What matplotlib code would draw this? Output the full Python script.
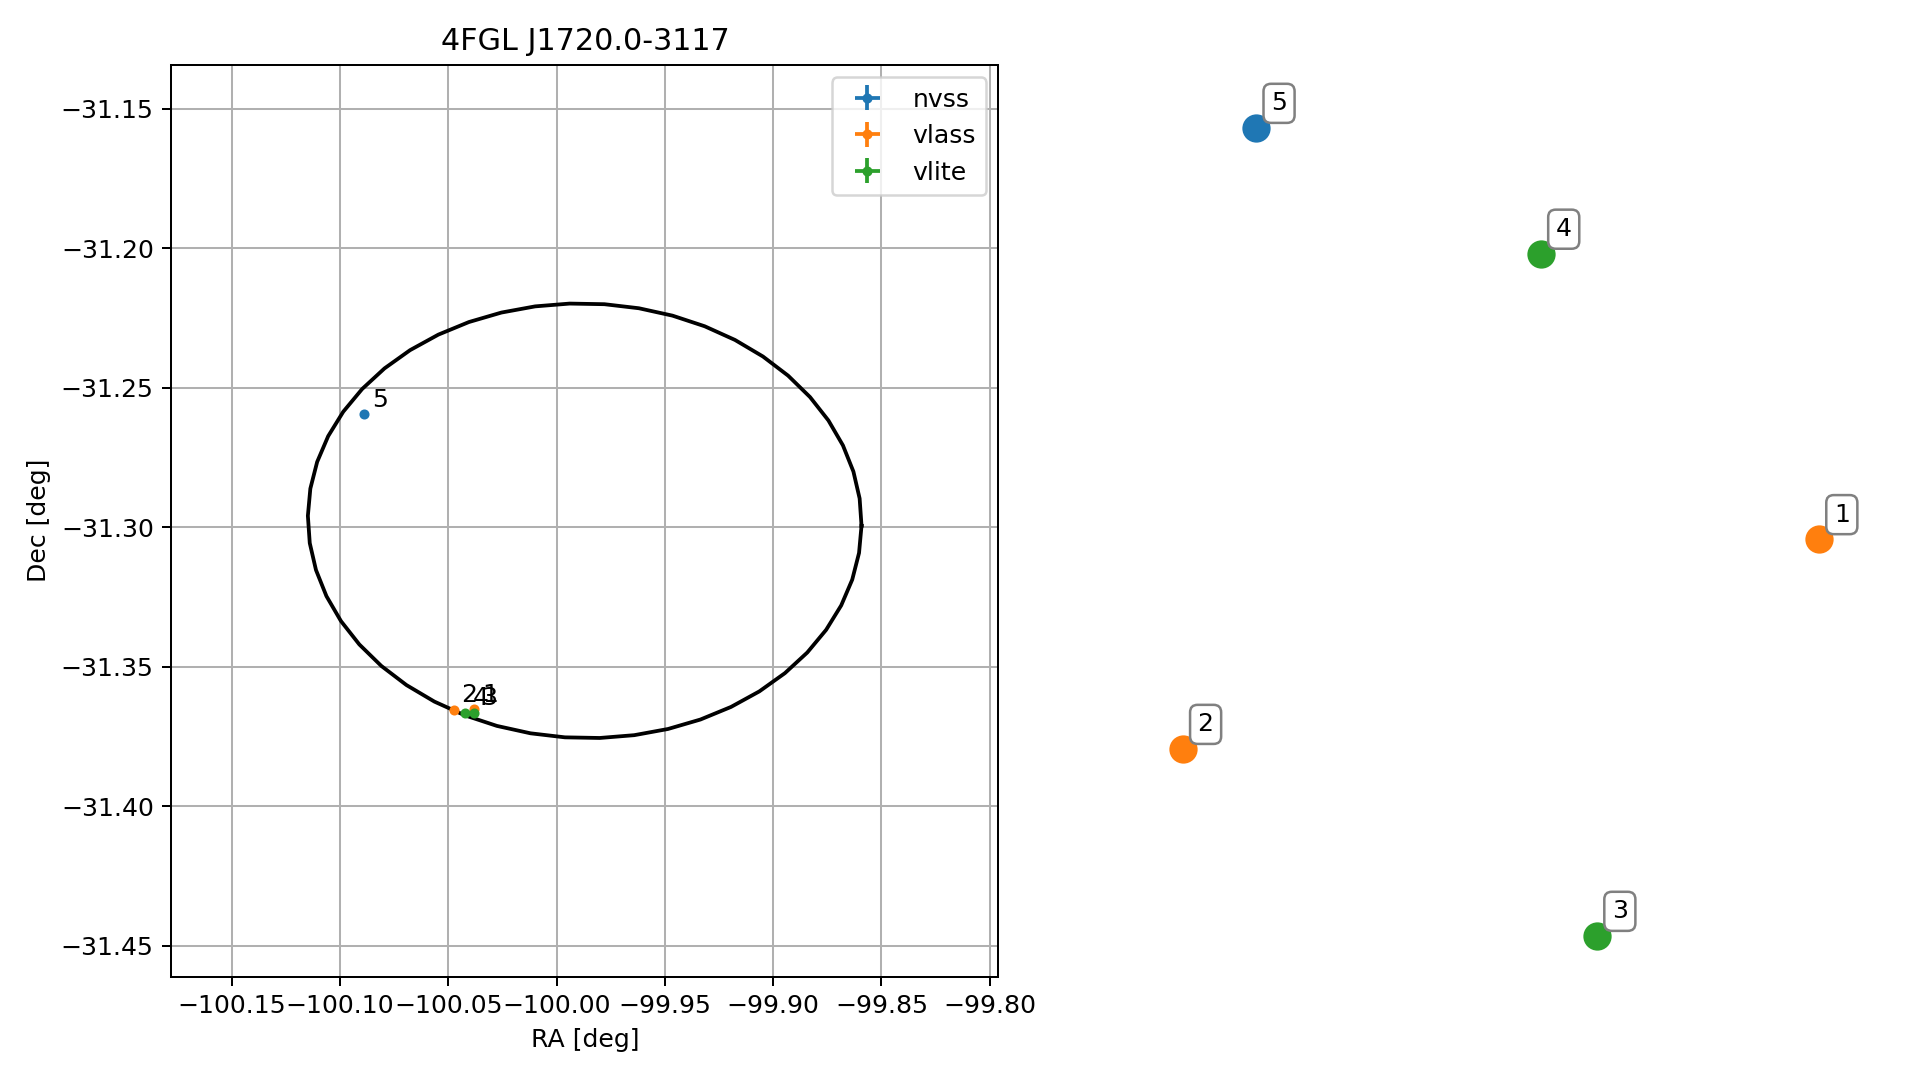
import numpy as np
import matplotlib.pyplot as plt

title = "4FGL J1720.0-3117"

# fermi 95% ellipse (deg)
ell_ra = -99.987
ell_dec = -31.2976
ell_a = 0.1278
ell_b = 0.0779
ell_ang = -0.8
n_ell = 51

# radio counterpart candidates
surveys = ['nvss', 'vlass', 'vlite']
colors = {'nvss': 'C0', 'vlass': 'C1', 'vlite': 'C2'}
src_id = [1, 2, 3, 4, 5]
src_survey = ['vlass', 'vlass', 'vlite', 'vlite', 'nvss']
src_ra = [-100.0379, -100.0474, -100.0382, -100.0423, -100.0888]
src_dec = [-31.3652, -31.3654, -31.3665, -31.3665, -31.2594]
src_ra_err = [0.0004, 0.0004, 0.0006, 0.0006, 0.0008]
src_dec_err = [0.0004, 0.0004, 0.0006, 0.0006, 0.0008]

# node layout for the match graph (no edges)
lay_x = [0.925, 0.154, 0.656, 0.588, 0.243]
lay_y = [0.480, 0.250, 0.045, 0.793, 0.931]

xlim = (-100.1778, -99.796)
ylim = (-31.461, -31.1342)

dpi = 181
fig = plt.figure(figsize=(1919 / dpi, 1080 / dpi), dpi=dpi)
ax = fig.add_axes([0.0893, 0.0957, 0.4310, 0.8442])
ax2 = fig.add_axes([0.55, 0.0954, 0.43, 0.8444])

# ellipse
t = np.linspace(0, 2 * np.pi, n_ell)
th = np.radians(ell_ang)
ex = ell_a * np.cos(t) * np.cos(th) - ell_b * np.sin(t) * np.sin(th) + ell_ra
ey = ell_a * np.cos(t) * np.sin(th) + ell_b * np.sin(t) * np.cos(th) + ell_dec
ax.plot(ex, ey, 'k-')

for s in surveys:
    idx = [i for i in range(len(src_id)) if src_survey[i] == s]
    ax.errorbar([src_ra[i] for i in idx], [src_dec[i] for i in idx],
                xerr=[src_ra_err[i] for i in idx], yerr=[src_dec_err[i] for i in idx],
                fmt='.', color=colors[s], label=s)

for i in range(len(src_id)):
    ax.annotate(str(src_id[i]), (src_ra[i], src_dec[i]), xytext=(3, 3),
                textcoords='offset points')

ax.set_xlim(xlim)
ax.set_ylim(ylim)
ax.grid()
ax.set_xlabel('RA [deg]')
ax.set_ylabel('Dec [deg]')
ax.set_title(title)
ax.legend(loc='upper right')

# right panel: graph nodes
for i in range(len(src_id)):
    ax2.scatter(lay_x[i], lay_y[i], s=105, color=colors[src_survey[i]], zorder=2)
    ax2.annotate(str(src_id[i]), (lay_x[i], lay_y[i]), xytext=(6, 7),
                 textcoords='offset points', zorder=3,
                 bbox=dict(boxstyle='round', fc='w', ec='gray'))
ax2.set_xlim(0, 1)
ax2.set_ylim(0, 1)
ax2.axis('off')

plt.savefig("out.png", dpi=dpi)
